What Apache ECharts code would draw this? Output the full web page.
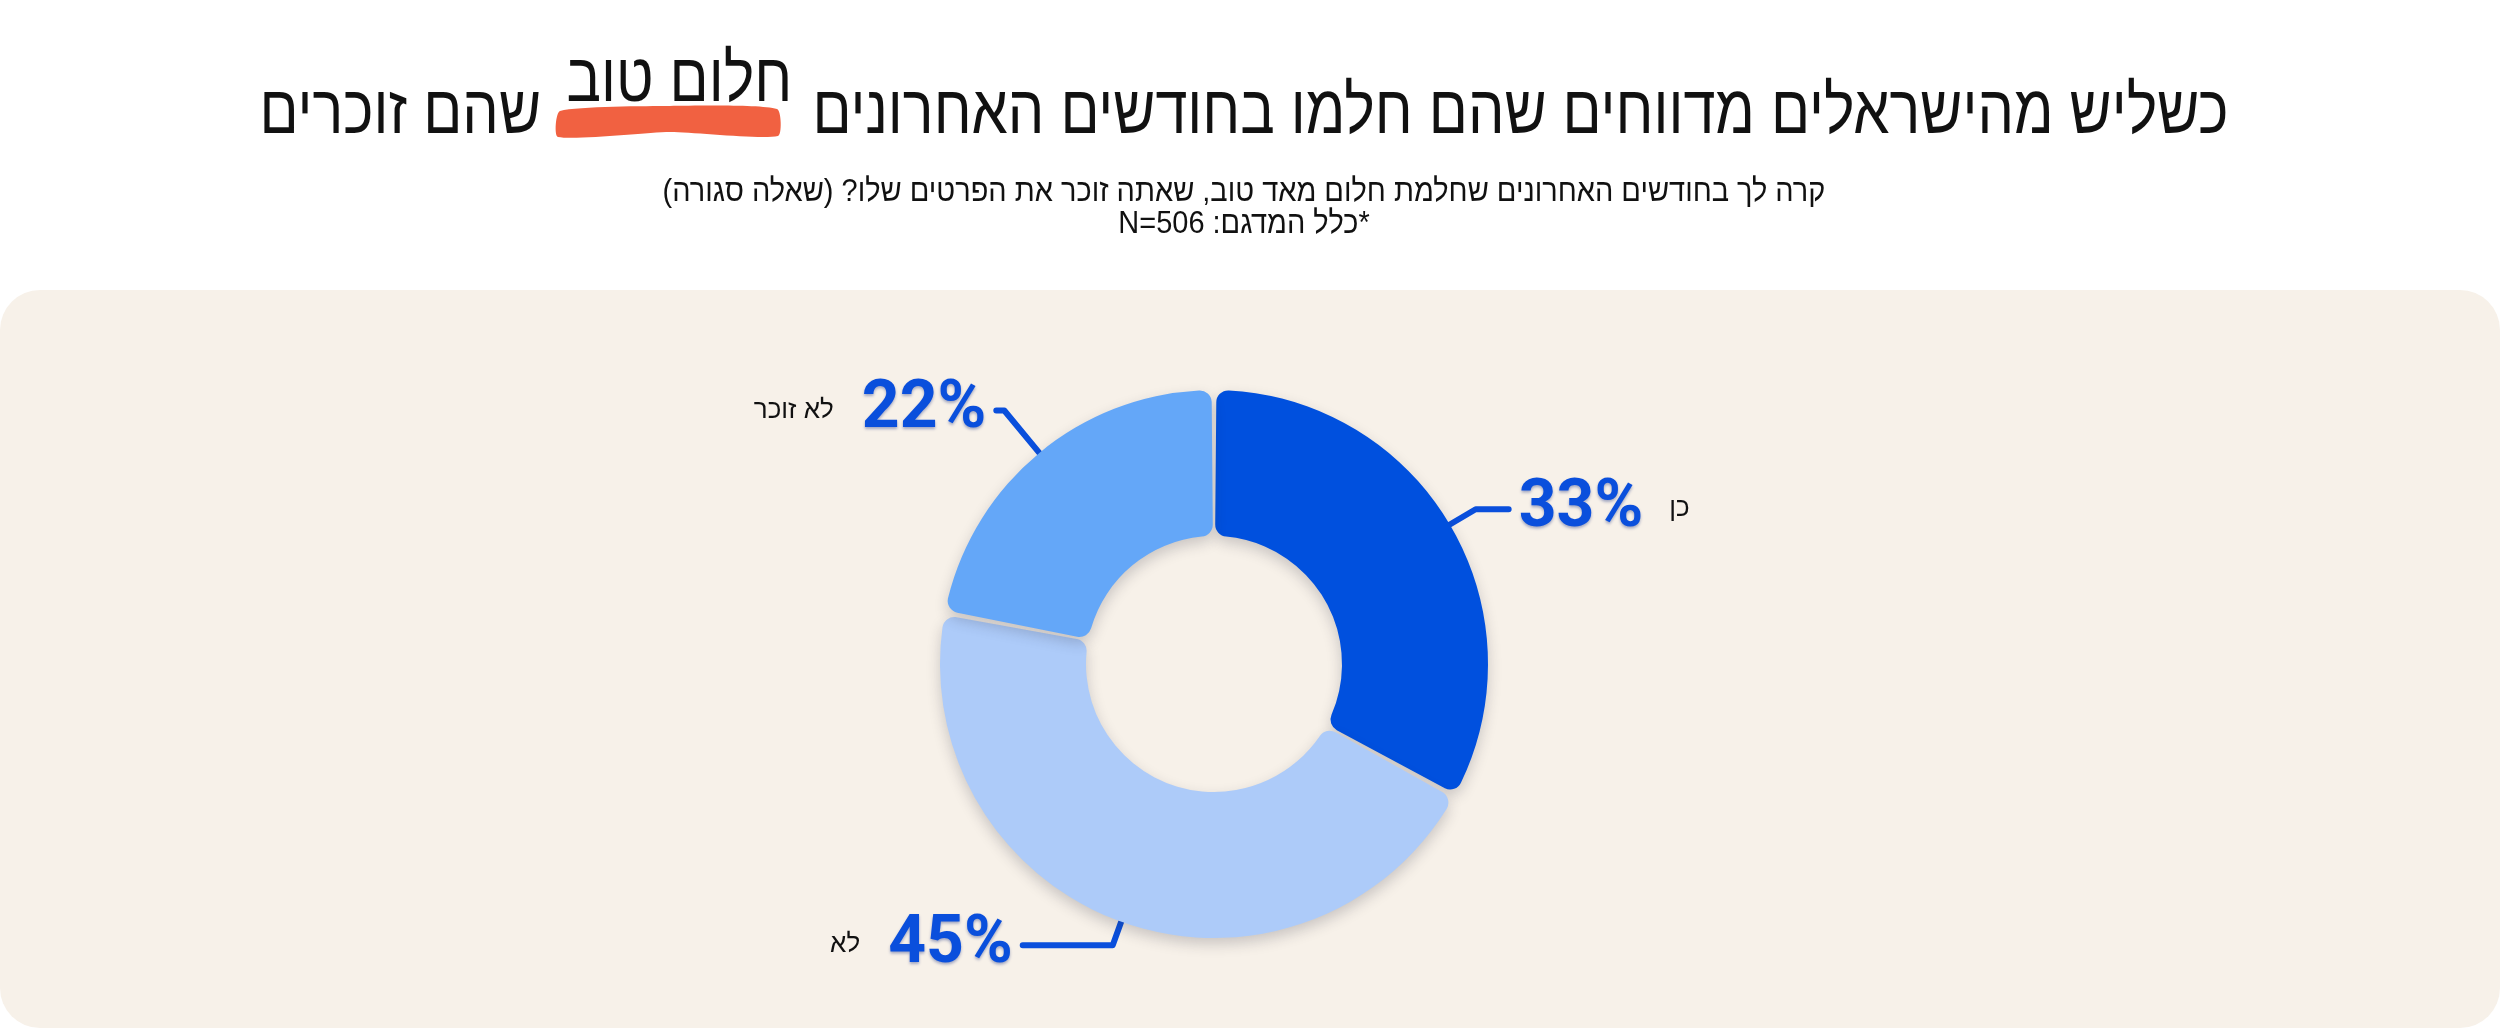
<!DOCTYPE html>
<html>
    <head>
        <meta charset="utf-8">
        <script src="https://cdn.jsdelivr.net/npm/echarts@6/dist/echarts.min.js"></script>
        <style>
            html, body { margin: 0; padding: 0; background: #ffffff; }
            #main { width: 2500px; height: 1030px; }
        </style>
    </head>
    <body>
        <div id="main" dir="rtl"></div>
        <script>
            // answers, in clockwise order from 12 o'clock
            var categories = ['כן', 'לא', 'לא זוכר'];
            var values = [33, 45, 22];
            var palette = ['#0050de', '#adcbf9', '#64a7f8'];

            var titleLeft = 'כשליש מהישראלים מדווחים שהם חלמו בחודשים האחרונים';
            var titleMark = 'חלום טוב';
            var titleEnd = 'שהם זוכרים';
            var question = 'קרה לך בחודשים האחרונים שחלמת חלום מאד טוב, שאתה זוכר את הפרטים שלו? (שאלה סגורה)';
            var sampleNote = '*כלל המדגם: N=506';

            var hebFont = '"Liberation Sans", "DejaVu Sans", sans-serif';
            var numFont = 'Roboto, "Open Sans", sans-serif';
            var blue = '#0a4fdc';

            var total = values.reduce(function (a, b) { return a + b; }, 0);

            // which side of the ring a slice's label falls on
            function labelSide(index) {
                var before = 0;
                for (var i = 0; i < index; i++) {
                    before += values[i];
                }
                var mid = 90 - 360 * (before + values[index] / 2) / total;
                return Math.cos(mid * Math.PI / 180) >= 0 ? 'right' : 'left';
            }

            var lineLen = [30, 25, 55];
            var lineLen2 = [33, 90, 8];

            var pieData = categories.map(function (name, i) {
                return {
                    name: name,
                    value: values[i],
                    itemStyle: { color: palette[i] },
                    labelLine: { length: lineLen[i], length2: lineLen2[i] }
                };
            });

            var chart = echarts.init(document.getElementById('main'));

            chart.setOption({
                backgroundColor: '#ffffff',
                animation: false,
                graphic: [
                    {
                        type: 'rect',
                        z: -10,
                        shape: { x: 0, y: 290, width: 2500, height: 738, r: 40 },
                        style: { fill: '#f7f1e9' }
                    },
                    {
                        // brush mark under the highlighted words
                        type: 'polygon',
                        z: -5,
                        shape: {
                            points: [[560, 111], [670, 106], [777, 109], [778, 136], [670, 132], [558, 137]],
                            smooth: 0.2
                        },
                        style: { fill: '#f16141' }
                    },
                    {
                        // condensed headline, words laid out left to right
                        type: 'text',
                        x: 1244,
                        y: 114,
                        scaleX: 0.848,
                        z: 5,
                        style: {
                            text: '{a|' + titleEnd + '}{h|' + titleMark + '}{a|' + titleLeft + '}',
                            align: 'center',
                            verticalAlign: 'middle',
                            rich: {
                                a: {
                                    fontFamily: hebFont,
                                    fontSize: 68,
                                    lineHeight: 80,
                                    fill: '#111111'
                                },
                                h: {
                                    fontFamily: hebFont,
                                    fontSize: 68,
                                    lineHeight: 80,
                                    fill: '#111111',
                                    padding: [0, 24, 64, 30]
                                }
                            }
                        }
                    },
                    {
                        type: 'text',
                        x: 1244,
                        y: 208,
                        scaleX: 0.905,
                        z: 5,
                        style: {
                            text: question + '\n' + sampleNote,
                            align: 'center',
                            verticalAlign: 'middle',
                            fontFamily: hebFont,
                            fontSize: 32,
                            lineHeight: 32,
                            fill: '#111111'
                        }
                    }
                ],
                series: [
                    {
                        type: 'pie',
                        center: [1214, 664],
                        radius: [128, 274],
                        startAngle: 90,
                        clockwise: true,
                        padAngle: 1,
                        avoidLabelOverlap: false,
                        itemStyle: {
                            borderRadius: 12,
                            shadowBlur: 14,
                            shadowOffsetY: 6,
                            shadowColor: 'rgba(40, 40, 60, 0.22)'
                        },
                        label: {
                            show: true,
                            position: 'outside',
                            distanceToLabelLine: 10,
                            formatter: function (p) {
                                var pct = '{pct|' + p.value + '%}';
                                return labelSide(p.dataIndex) === 'right'
                                    ? pct + '{nr|' + p.name + '}'
                                    : '{nl|' + p.name + '}' + pct;
                            },
                            rich: {
                                pct: {
                                    fontFamily: numFont,
                                    fontWeight: 'bold',
                                    fontSize: 66,
                                    color: blue,
                                    textShadowColor: 'rgba(0, 30, 120, 0.35)',
                                    textShadowBlur: 3,
                                    textShadowOffsetY: 2
                                },
                                nr: {
                                    fontFamily: hebFont,
                                    fontSize: 26,
                                    color: '#111111',
                                    padding: [0, 0, 0, 26]
                                },
                                nl: {
                                    fontFamily: hebFont,
                                    fontSize: 26,
                                    color: '#111111',
                                    padding: [0, 28, 0, 0]
                                }
                            }
                        },
                        labelLine: {
                            show: true,
                            smooth: false,
                            lineStyle: {
                                color: blue,
                                width: 6,
                                cap: 'round',
                                join: 'round'
                            }
                        },
                        emphasis: { disabled: true },
                        data: pieData
                    }
                ]
            });
        </script>
    </body>
</html>
